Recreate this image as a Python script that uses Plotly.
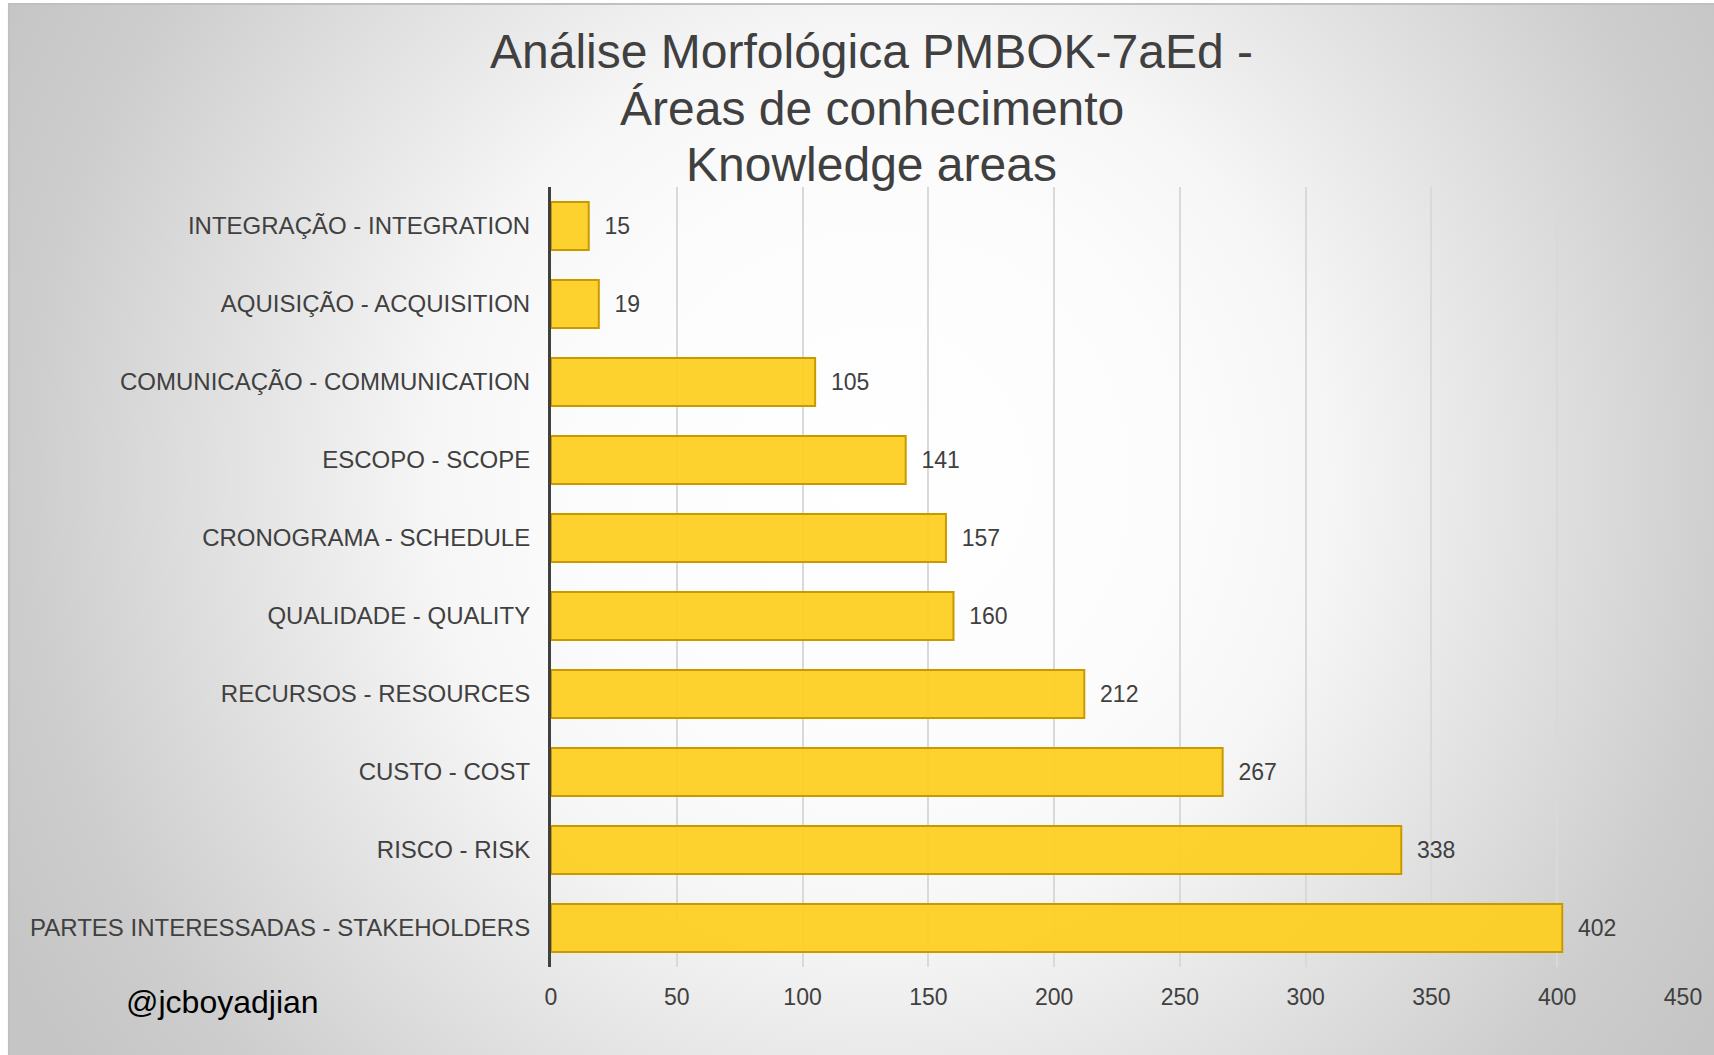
import base64
import plotly.graph_objects as go

# ---- data ----
categories = [
    "INTEGRAÇÃO - INTEGRATION",
    "AQUISIÇÃO - ACQUISITION",
    "COMUNICAÇÃO - COMMUNICATION",
    "ESCOPO - SCOPE",
    "CRONOGRAMA - SCHEDULE",
    "QUALIDADE - QUALITY",
    "RECURSOS - RESOURCES",
    "CUSTO - COST",
    "RISCO - RISK",
    "PARTES INTERESSADAS - STAKEHOLDERS",
]
values = [15, 19, 105, 141, 157, 160, 212, 267, 338, 402]
x_ticks = [0, 50, 100, 150, 200, 250, 300, 350, 400, 450]
title_lines = ["Análise Morfológica PMBOK-7aEd -", "Áreas de conhecimento", "Knowledge areas"]
watermark = "@jcboyadjian"

# ---- layout geometry ----
W, H = 1714, 1055
ML, MR, MT, MB = 551, 27, 187, 88
PW, PH = W - ML - MR, H - MT - MB
FONT = "Arial, Liberation Sans, sans-serif"
TXT = "#404040"
EXT = 30  # background image overhang beyond the page edges


def px_x(px):
    return (px - ML) / PW


def px_y(py):
    return 1 - (py - MT) / PH


# background: white page with radial-gradient chart frame
SW, SH = W + EXT, H + EXT
svg = f'''<svg xmlns="http://www.w3.org/2000/svg" width="{SW}" height="{SH}" viewBox="0 0 {SW} {SH}">
<defs><radialGradient id="g" gradientUnits="userSpaceOnUse" cx="880" cy="480" r="1000">
<stop offset="0" stop-color="#ffffff"/>
<stop offset="0.3" stop-color="#fcfcfc"/>
<stop offset="0.45" stop-color="#f6f6f6"/>
<stop offset="0.5" stop-color="#f1f1f1"/>
<stop offset="0.67" stop-color="#e0e0e0"/>
<stop offset="0.74" stop-color="#d9d9d9"/>
<stop offset="0.86" stop-color="#cdcdcd"/>
<stop offset="1" stop-color="#c5c5c5"/>
</radialGradient></defs>
<rect x="0" y="0" width="{SW}" height="{SH}" fill="#ffffff"/>
<rect x="7" y="4" width="{SW + 20}" height="{SH + 20}" fill="url(#g)" stroke="#c0c0c0" stroke-width="2"/>
</svg>'''
src = "data:image/svg+xml;base64," + base64.b64encode(svg.encode("utf-8")).decode("ascii")

fig = go.Figure(
    go.Bar(
        y=categories,
        x=values,
        orientation="h",
        marker=dict(color="rgba(253,207,31,0.93)", line=dict(color="#C99A00", width=2)),
        text=values,
        texttemplate="\u00a0\u00a0%{x}",
        textposition="outside",
        textfont=dict(family=FONT, size=23, color=TXT),
        cliponaxis=False,
        hoverinfo="x+y",
    )
)

title_y_px = [52, 109, 164]
annotations = [
    dict(
        text=line,
        xref="paper",
        yref="paper",
        x=px_x(873),
        y=px_y(ypx),
        xanchor="center",
        yanchor="middle",
        showarrow=False,
        font=dict(family=FONT, size=48, color=TXT),
    )
    for line, ypx in zip(title_lines, title_y_px)
]
annotations.append(
    dict(
        text=watermark,
        xref="paper",
        yref="paper",
        x=px_x(221),
        y=px_y(1002),
        xanchor="center",
        yanchor="middle",
        showarrow=False,
        font=dict(family=FONT, size=32, color="#000000"),
    )
)

fig.update_layout(
    width=W,
    height=H,
    margin=dict(l=ML, r=MR, t=MT, b=MB, pad=0),
    paper_bgcolor="#ffffff",
    plot_bgcolor="rgba(0,0,0,0)",
    bargap=0.385,
    showlegend=False,
    font=dict(family=FONT, color=TXT),
    images=[
        dict(
            source=src,
            xref="paper",
            yref="paper",
            x=-ML / PW,
            y=1 + MT / PH,
            sizex=SW / PW,
            sizey=SH / PH,
            xanchor="left",
            yanchor="top",
            sizing="stretch",
            layer="below",
        )
    ],
    annotations=annotations,
)

fig.update_xaxes(
    range=[0, 450],
    tickvals=x_ticks,
    ticktext=[str(v) for v in x_ticks],
    showgrid=True,
    gridcolor="#d9d9d9",
    gridwidth=2,
    zeroline=False,
    showline=False,
    ticks="",
    tickfont=dict(family=FONT, size=23, color=TXT),
    ticklabelstandoff=14,
    fixedrange=True,
)
fig.update_yaxes(
    categoryorder="array",
    categoryarray=categories,
    autorange="reversed",
    showline=True,
    linecolor="#404040",
    linewidth=3,
    showgrid=False,
    ticks="",
    tickfont=dict(family=FONT, size=24, color=TXT),
    ticklabelstandoff=13,
    fixedrange=True,
)

fig.write_html(
    "out.html",
    config={"displayModeBar": False},
    post_script=(
        "document.body.style.margin='0';document.body.style.padding='0';"
        "document.body.style.overflow='hidden';"
        "document.documentElement.style.overflow='hidden';"
    ),
)
